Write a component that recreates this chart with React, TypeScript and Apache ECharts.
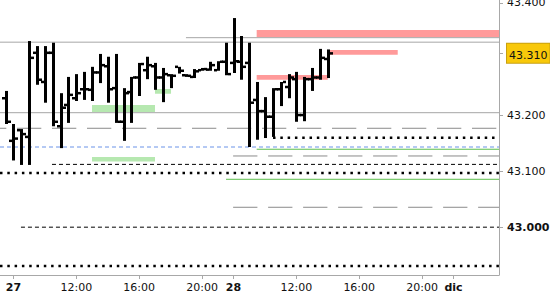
import React, { useEffect, useRef } from 'react';
import * as echarts from 'echarts';

const FONT = '"DejaVu Sans", Verdana, sans-serif';

// Half-hour slots; slot 0 = 27 dic 08:00 (session start), slot 28 = 28 dic 08:00
const firstSlot = -1;
const opens = [43.230, 43.154, 43.173, 43.161, 43.311, 43.259, 43.311, 43.180, 43.218, 43.230, 43.246, 43.245, 43.276, 43.287, 43.248, 43.188, 43.241, 43.267, 43.280, 43.287, 43.267, 43.271, 43.286, 43.271, 43.268, 43.280, 43.281, 43.280, 43.295, 43.293, 43.295, 43.293, 43.227, 43.207, 43.197, 43.246, 43.250, 43.264, 43.200, 43.264, 43.267, 43.300];
const highs = [43.243, 43.184, 43.175, 43.332, 43.323, 43.323, 43.329, 43.239, 43.268, 43.273, 43.277, 43.286, 43.309, 43.304, 43.309, 43.248, 43.268, 43.293, 43.304, 43.293, 43.284, 43.273, 43.286, 43.273, 43.282, 43.284, 43.295, 43.296, 43.329, 43.373, 43.341, 43.329, 43.259, 43.232, 43.248, 43.259, 43.273, 43.277, 43.268, 43.284, 43.318, 43.317];
const lows = [43.184, 43.119, 43.111, 43.111, 43.254, 43.222, 43.180, 43.141, 43.186, 43.225, 43.227, 43.225, 43.257, 43.222, 43.186, 43.154, 43.186, 43.234, 43.264, 43.245, 43.223, 43.248, 43.274, 43.268, 43.266, 43.279, 43.279, 43.279, 43.271, 43.275, 43.263, 43.143, 43.156, 43.159, 43.161, 43.216, 43.230, 43.188, 43.189, 43.243, 43.263, 43.266];
const closes = [43.188, 43.158, 43.166, 43.302, 43.263, 43.311, 43.188, 43.213, 43.236, 43.239, 43.246, 43.276, 43.289, 43.246, 43.188, 43.239, 43.267, 43.291, 43.289, 43.267, 43.273, 43.270, 43.279, 43.270, 43.278, 43.282, 43.289, 43.295, 43.273, 43.296, 43.286, 43.222, 43.207, 43.197, 43.246, 43.259, 43.267, 43.200, 43.264, 43.267, 43.302, 43.310];

const xTickSlots = [0, 8, 16, 24, 28, 36, 44, 52, 56];
const xTickLabels = ['27', '12:00', '16:00', '20:00', '28', '12:00', '16:00', '20:00', 'dic'];
const xTickIsDay = [true, false, false, false, true, false, false, false, true];

const yTickValues = [43.0, 43.1, 43.2, 43.31, 43.4];
const lastPrice = 43.31;

const xMin = -1.718;
const xMax = 61.79;
const yMin = 42.9147;
const yMax = 43.4052;

// [price, fromSlot] (null = from left edge); all lines run to the right edge
const graySolidLevels: [number, number | null][] = [[43.330, null], [43.2042, null], [43.338, 21.95]];
const grayDashLevels: [number, number | null][] = [[43.1764, null], [43.127, 27.95], [43.0355, 27.95]];
const blackDashLevels: [number, number | null][] = [[43.112, 4.9], [43.0, 0.95]];
const blackDotLevels: [number, number | null][] = [[43.1596, 33.03], [43.0967, null], [42.9308, null]];
const blueDashLevels: [number, number | null][] = [[43.143, null]];
const greenLineLevels: [number, number | null][] = [[43.139, 30.95], [43.0854, 27.05]];

// [fromSlot, toSlot (null = right edge), lowPrice, highPrice]
const redZones: [number, number | null, number, number][] = [
  [30.95, null, 43.3387, 43.3517],
  [40.28, 48.9, 43.3077, 43.316],
  [30.95, 39.99, 43.2631, 43.2714],
];
const greenZones: [number, number | null, number, number][] = [
  [9.99, 18.01, 43.2055, 43.218],
  [18.01, 20.05, 43.238, 43.2465],
  [9.99, 18.01, 43.117, 43.125],
];

function hLines(levels: [number, number | null][], lineStyle: any, z: number, fullOffset = 0) {
  return levels.map(([v, from]) => ({
    type: 'line',
    data: [[from == null ? xMin : from, v], [xMax, v]],
    symbol: 'none',
    silent: true,
    z,
    emphasis: { disabled: true },
    lineStyle: { ...lineStyle, dashOffset: from == null ? fullOffset : 0 },
  }));
}

function zoneSeries(zones: [number, number | null, number, number][], color: string) {
  return {
    type: 'custom',
    silent: true,
    z: 1,
    clip: true,
    encode: { x: [0, 1], y: [2, 3] },
    data: zones.map(([a, b, lo, hi]) => [a, b == null ? xMax : b, lo, hi]),
    renderItem: (params: any, api: any) => {
      const p0 = api.coord([api.value(0), api.value(3)]);
      const p1 = api.coord([api.value(1), api.value(2)]);
      return {
        type: 'rect',
        shape: { x: p0[0], y: p0[1], width: p1[0] - p0[0], height: p1[1] - p0[1] },
        style: { fill: color },
      };
    },
  };
}

export default function App() {
  const ref = useRef<HTMLDivElement>(null);
  useEffect(() => {
    if (!ref.current) return;
    const chart = echarts.init(ref.current, null, { renderer: 'svg' });
    const bars = opens.map((o, i) => [firstSlot + i, o, highs[i], lows[i], closes[i]]);
    chart.setOption({
      animation: false,
      backgroundColor: '#ffffff',
      grid: { left: 0, right: 51, top: 0, bottom: 25, containLabel: false, outerBoundsMode: 'none' },
      xAxis: {
        type: 'value',
        min: xMin,
        max: xMax,
        splitLine: { show: false },
        axisLine: { show: true, onZero: false, lineStyle: { color: '#a8a8a8', width: 1 } },
        axisTick: { show: true, length: 4, customValues: xTickSlots, lineStyle: { color: '#a8a8a8' } },
        axisLabel: {
          customValues: xTickSlots,
          margin: 7,
          fontFamily: FONT,
          fontSize: 11,
          color: '#111',
          hideOverlap: false,
          formatter: (v: number) => {
            const i = xTickSlots.indexOf(Math.round(v));
            if (i < 0) return '';
            return xTickIsDay[i] ? `{d|${xTickLabels[i]}}` : xTickLabels[i];
          },
          rich: { d: { fontFamily: FONT, fontSize: 11, fontWeight: 'bold', color: '#111' } },
        },
      },
      yAxis: {
        type: 'value',
        position: 'right',
        min: yMin,
        max: yMax,
        splitLine: { show: false },
        axisLine: { show: true, onZero: false, lineStyle: { color: '#a8a8a8', width: 1 } },
        axisTick: { show: true, length: 4, customValues: yTickValues, lineStyle: { color: '#a8a8a8' } },
        axisLabel: {
          customValues: yTickValues,
          margin: 8,
          fontFamily: FONT,
          fontSize: 11,
          color: '#111',
          hideOverlap: false,
          formatter: (v: number) => {
            if (Math.abs(v - lastPrice) < 1e-6) return `{p|${v.toFixed(3)}}`;
            if (Math.abs(v - 43.0) < 1e-6) return `{b|${v.toFixed(3)}}`;
            return v.toFixed(3);
          },
          rich: {
            p: {
              fontFamily: FONT, fontSize: 11, color: '#111',
              backgroundColor: '#f8c80a', borderColor: '#c8a010', borderWidth: 1,
              padding: [6, 2, 2, 2],
            },
            b: { fontFamily: FONT, fontSize: 11, fontWeight: 'bold', color: '#111' },
          },
        },
      },
      series: [
        zoneSeries(greenZones, '#b6e8b0'),
        zoneSeries(redZones, '#ff9a9a'),
        ...hLines(graySolidLevels, { color: '#a6a6a6', width: 1, type: 'solid' }, 2),
        ...hLines(grayDashLevels, { color: '#8a8a8a', width: 1, type: [24.3, 10.7] }, 2, 17.7),
        ...hLines(blueDashLevels, { color: '#6a93e8', width: 1, type: [4, 3] }, 2),
        ...hLines(greenLineLevels, { color: '#5cbf4c', width: 1, type: 'solid' }, 2),
        ...hLines(blackDashLevels, { color: '#000', width: 1, type: [4, 3] }, 2),
        ...hLines(blackDotLevels, { color: '#000', width: 2.5, type: [2.5, 4.8] }, 2),
        {
          type: 'custom',
          silent: true,
          z: 5,
          clip: true,
          encode: { x: 0, y: [1, 2, 3, 4] },
          data: bars,
          renderItem: (params: any, api: any) => {
            const x = api.value(0);
            const o = api.coord([x, api.value(1)]);
            const h = api.coord([x, api.value(2)]);
            const l = api.coord([x, api.value(3)]);
            const c = api.coord([x, api.value(4)]);
            const cx = Math.round(h[0]);
            return {
              type: 'group',
              children: [
                { type: 'rect', shape: { x: cx - 1, y: h[1], width: 3, height: Math.max(1, l[1] - h[1]) }, style: { fill: '#000' } },
                { type: 'rect', shape: { x: cx - 4, y: o[1] - 1.25, width: 3, height: 2.5 }, style: { fill: '#000' } },
                { type: 'rect', shape: { x: cx + 2, y: c[1] - 1.25, width: 3, height: 2.5 }, style: { fill: '#000' } },
              ],
            };
          },
        },
      ],
    });
    return () => chart.dispose();
  }, []);
  return (
    <div
      ref={ref}
      style={{ position: 'absolute', left: 0, top: 0, width: 550, height: 300, background: '#fff' }}
    />
  );
}
